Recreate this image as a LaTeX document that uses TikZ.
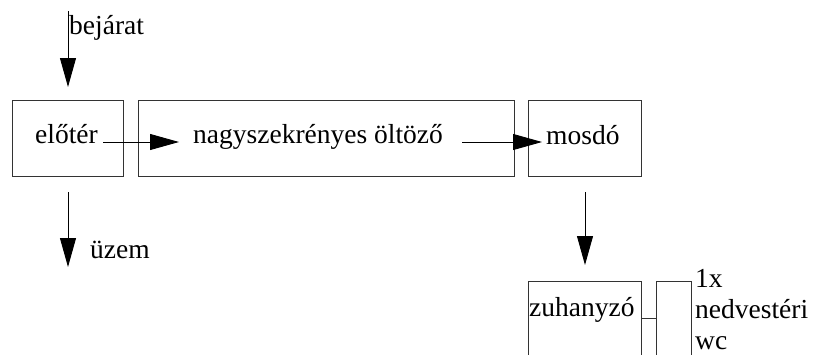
\documentclass[tikz,border=0pt]{standalone}
\usepackage{fontspec}
\setmainfont{Liberation Serif}
\usetikzlibrary{arrows.meta}
\begin{document}
\begin{tikzpicture}[x=1pt,y=1pt,
  box/.style={draw=black!80,line width=1pt,inner sep=0pt,anchor=north west},
  lbl/.style={inner sep=0pt,anchor=base west,font=\fontsize{27.5}{31}\selectfont},
  arr/.style={line width=0.9pt,-{Triangle[length=29pt,width=16pt]}},
  conn/.style={draw=black!80,line width=1pt}]
\useasboundingbox (0,0) rectangle (817,-354);
\clip (0,0) rectangle (817,-354);
% boxes
\node[box,minimum width=111pt,minimum height=76pt] (b1) at (12,-100) {};
\node[box,minimum width=376pt,minimum height=76pt] (b2) at (138,-100) {};
\node[box,minimum width=113pt,minimum height=76pt] (b3) at (528,-100) {};
\node[box,minimum width=113pt,minimum height=100pt] (b4) at (528,-281) {};
\node[box,minimum width=35pt,minimum height=100pt] (b5) at (656,-281) {};
% labels
\node[lbl] (bej) at (69,-34) {bejárat};
\node[lbl] (elo) at (35,-143) {előtér};
\node[lbl] (nagy) at (193,-143) {nagyszekrényes öltöző};
\node[lbl] (mos) at (546,-144) {mosdó};
\node[lbl] (uz) at (90,-258) {üzem};
\node[lbl] (zuh) at (529,-316) {zuhanyzó};
\node[lbl] (wc1) at (695,-287) {1x};
\node[lbl] (wc2) at (695,-318) {nedvestéri};
\node[lbl] (wc3) at (695,-349) {wc};
% arrows
\coordinate (in1) at (68,-11);
\draw[arr] (in1) -- ([xshift=56pt,yshift=13pt]b1.north west);
\draw[arr] ([xshift=56pt,yshift=-15pt]b1.south west) -- ([xshift=56pt,yshift=-90pt]b1.south west);
\draw[arr] ([xshift=5pt,yshift=1pt]elo.base east) -- ([xshift=-14pt,yshift=1pt]nagy.base west);
\draw[arr] ([xshift=19pt,yshift=1pt]nagy.base east) -- ([xshift=-4pt,yshift=2pt]mos.base west);
\draw[arr] ([yshift=-15pt]b3.south) -- ([yshift=16pt]b4.north);
\draw[conn] ([yshift=-37pt]b4.north east) -- ([yshift=-37pt]b5.north west);
\end{tikzpicture}
\end{document}
